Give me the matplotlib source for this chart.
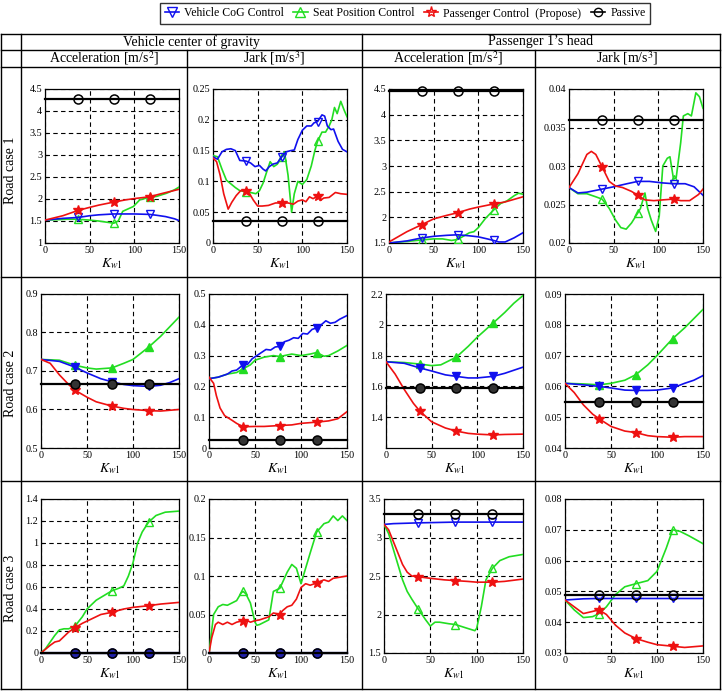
import matplotlib
matplotlib.use('Agg')
import matplotlib.pyplot as plt
from matplotlib.lines import Line2D
from matplotlib.ticker import FuncFormatter

plt.rcParams['font.family'] = ['Liberation Serif', 'DejaVu Serif']
plt.rcParams['mathtext.fontset'] = 'stix'

W, H = 723, 691
MARK_X = [37, 77, 117]
K_LIM = [0, 150]
X_TICKS = [0, 50, 100, 150]

C_COG = '#1010ee'
C_SEAT = '#22dd22'
C_PASS = '#ee1111'
C_PASSIVE = 'black'

legend_labels = ['Vehicle CoG Control', 'Seat Position Control',
                 'Passenger Control  (Propose)', 'Passive']
group_titles = ['Vehicle center of gravity', 'Passenger 1\u2019s head']
col_titles = ['Acceleration [m/s$^2$]', 'Jark [m/s$^3$]',
              'Acceleration [m/s$^2$]', 'Jark [m/s$^3$]']
row_titles = ['Road case 1', 'Road case 2', 'Road case 3']

# ---------------- Road case 1 ----------------
rc1_veh_acc_cog = [(0,1.52),(10,1.54),(20,1.56),(37,1.58),(50,1.62),(60,1.64),(77,1.66),(90,1.66),
                   (100,1.66),(117,1.65),(125,1.63),(135,1.6),(145,1.55),(150,1.51)]
rc1_veh_acc_seat = [(0,1.52),(15,1.53),(25,1.54),(37,1.54),(50,1.52),(60,1.5),(70,1.47),(77,1.45),
                    (82,1.5),(87,1.72),(99,1.83),(106,1.98),(117,2.04),(125,2.06),(136,2.13),(145,2.21),(150,2.27)]
rc1_veh_acc_pass = [(0,1.52),(20,1.62),(37,1.74),(50,1.81),(60,1.86),(77,1.93),(90,1.98),(100,2.01),
                    (117,2.05),(130,2.12),(140,2.17),(150,2.22)]
rc1_veh_acc_passive = 4.27

rc1_veh_jerk_cog = [(0,0.14),(5,0.136),(10,0.148),(15,0.152),(20,0.153),(25,0.15),(30,0.134),(37,0.133),
                    (42,0.13),(47,0.124),(52,0.126),(56,0.12),(59,0.117),(63,0.124),(67,0.128),(72,0.13),
                    (77,0.14),(82,0.148),(87,0.15),(91,0.151),(95,0.168),(100,0.183),(105,0.19),(110,0.19),
                    (113,0.195),(117,0.197),(122,0.208),(125,0.206),(128,0.19),(132,0.184),(135,0.185),
                    (140,0.165),(145,0.152),(150,0.148)]
rc1_veh_jerk_seat = [(0,0.142),(5,0.14),(10,0.12),(15,0.102),(20,0.096),(25,0.09),(30,0.085),(37,0.083),
                     (42,0.082),(48,0.08),(52,0.085),(56,0.097),(60,0.115),(64,0.132),(68,0.124),(72,0.128),
                     (77,0.14),(80,0.148),(84,0.11),(88,0.05),(91,0.08),(95,0.1),(100,0.095),(105,0.103),
                     (110,0.125),(114,0.15),(117,0.165),(122,0.18),(126,0.18),(130,0.19),(133,0.2),
                     (136,0.22),(139,0.21),(143,0.23),(147,0.215),(150,0.205)]
rc1_veh_jerk_pass = [(0,0.138),(4,0.132),(8,0.11),(12,0.08),(17,0.055),(21,0.066),(26,0.077),(31,0.085),
                     (37,0.085),(41,0.08),(45,0.07),(50,0.06),(55,0.06),(62,0.061),(70,0.065),(77,0.065),
                     (84,0.065),(90,0.063),(95,0.068),(100,0.07),(104,0.067),(108,0.075),(112,0.072),
                     (117,0.076),(120,0.069),(124,0.073),(130,0.074),(137,0.082),(143,0.08),(150,0.079)]
rc1_veh_jerk_passive = 0.035

rc1_head_acc_cog = [(0,1.5),(20,1.54),(37,1.6),(50,1.63),(65,1.65),(77,1.66),(90,1.64),(100,1.62),
                    (110,1.58),(117,1.55),(123,1.52),(130,1.52),(140,1.6),(150,1.7)]
rc1_head_acc_seat = [(0,1.5),(20,1.53),(37,1.56),(50,1.58),(60,1.58),(70,1.55),(77,1.57),(82,1.62),
                     (90,1.7),(95,1.72),(100,1.8),(108,1.98),(117,2.14),(125,2.27),(132,2.32),(140,2.42),
                     (145,2.47),(150,2.45)]
rc1_head_acc_pass = [(0,1.52),(10,1.62),(20,1.72),(37,1.86),(50,1.97),(65,2.04),(77,2.09),(90,2.16),
                     (100,2.2),(117,2.26),(130,2.3),(140,2.35),(150,2.4)]
rc1_head_acc_passive = 4.47

rc1_head_jerk_cog = [(0,0.0272),(10,0.0265),(20,0.0266),(37,0.027),(50,0.0273),(65,0.0277),(77,0.028),
                     (90,0.028),(105,0.0278),(117,0.0277),(130,0.0277),(140,0.0273),(150,0.0262)]
rc1_head_jerk_seat = [(0,0.0272),(10,0.0264),(20,0.0264),(30,0.026),(37,0.0257),(45,0.0245),(52,0.023),
                      (58,0.022),(64,0.0218),(70,0.0226),(77,0.0239),(80,0.0245),(85,0.0265),(88,0.0245),
                      (92,0.023),(97,0.0215),(101,0.0235),(105,0.03),(110,0.031),(113,0.0312),(117,0.0283),
                      (120,0.0285),(125,0.033),(128,0.0365),(133,0.0368),(137,0.0365),(142,0.0395),
                      (146,0.039),(150,0.0375)]
rc1_head_jerk_pass = [(0,0.0272),(10,0.029),(20,0.0315),(25,0.0319),(30,0.0315),(37,0.0299),(45,0.028),
                      (52,0.0274),(60,0.0272),(70,0.0267),(77,0.0262),(85,0.0256),(95,0.0255),(105,0.0256),
                      (117,0.0257),(125,0.0255),(135,0.0255),(145,0.0263),(150,0.027)]
rc1_head_jerk_passive = 0.036

# ---------------- Road case 2 ----------------
rc2_veh_acc_cog = [(0,0.73),(20,0.725),(37,0.71),(50,0.695),(65,0.68),(77,0.672),(90,0.665),(100,0.662),
                   (117,0.66),(130,0.663),(140,0.67),(150,0.68)]
rc2_veh_acc_seat = [(0,0.73),(20,0.728),(37,0.715),(50,0.708),(60,0.705),(77,0.708),(90,0.72),(100,0.73),
                    (117,0.762),(130,0.79),(140,0.815),(150,0.84)]
rc2_veh_acc_pass = [(0,0.73),(10,0.72),(20,0.69),(30,0.665),(37,0.65),(50,0.632),(60,0.62),(77,0.609),
                    (90,0.603),(100,0.6),(117,0.597),(130,0.596),(140,0.598),(150,0.6)]
rc2_veh_acc_passive = 0.667

rc2_veh_jerk_cog = [(0,0.225),(10,0.23),(20,0.24),(25,0.25),(30,0.253),(37,0.27),(42,0.272),(47,0.29),
                    (52,0.3),(57,0.31),(62,0.32),(67,0.318),(72,0.328),(77,0.33),(82,0.345),(87,0.35),
                    (92,0.358),(97,0.356),(102,0.372),(107,0.37),(112,0.385),(117,0.39),(122,0.4),
                    (127,0.413),(132,0.405),(137,0.408),(142,0.418),(150,0.43)]
rc2_veh_jerk_seat = [(0,0.225),(10,0.23),(20,0.24),(30,0.245),(37,0.257),(45,0.27),(50,0.285),(60,0.295),
                     (70,0.3),(77,0.297),(90,0.305),(100,0.3),(110,0.305),(117,0.31),(125,0.298),(130,0.3),
                     (140,0.315),(150,0.333)]
rc2_veh_jerk_pass = [(0,0.23),(5,0.21),(8,0.17),(12,0.13),(17,0.105),(25,0.09),(30,0.08),(37,0.069),
                     (50,0.07),(60,0.07),(77,0.073),(90,0.075),(100,0.08),(117,0.084),(130,0.088),
                     (140,0.095),(150,0.118)]
rc2_veh_jerk_passive = 0.025

rc2_head_acc_cog = [(0,1.76),(20,1.75),(37,1.72),(50,1.7),(65,1.675),(77,1.665),(90,1.655),(100,1.655),
                    (117,1.665),(130,1.685),(140,1.705),(150,1.725)]
rc2_head_acc_seat = [(0,1.76),(20,1.755),(37,1.745),(50,1.735),(60,1.74),(77,1.79),(90,1.86),(100,1.92),
                     (117,2.01),(130,2.08),(140,2.14),(150,2.19)]
rc2_head_acc_pass = [(0,1.76),(10,1.68),(20,1.58),(30,1.49),(37,1.44),(50,1.37),(65,1.33),(77,1.31),
                     (90,1.295),(100,1.29),(117,1.285),(130,1.288),(150,1.29)]
rc2_head_acc_passive = 1.59

rc2_head_jerk_cog = [(0,0.061),(20,0.0605),(37,0.06),(50,0.0595),(65,0.0588),(77,0.0587),(90,0.0587),
                     (100,0.0588),(117,0.0595),(130,0.061),(140,0.062),(150,0.0635)]
rc2_head_jerk_seat = [(0,0.061),(20,0.0608),(37,0.0605),(50,0.061),(65,0.062),(77,0.0638),(90,0.067),
                      (100,0.07),(117,0.0755),(130,0.079),(140,0.082),(150,0.085)]
rc2_head_jerk_pass = [(0,0.061),(10,0.058),(20,0.054),(30,0.051),(37,0.0495),(50,0.047),(65,0.0455),
                      (77,0.045),(90,0.044),(100,0.0437),(117,0.0435),(130,0.0437),(150,0.0437)]
rc2_head_jerk_passive = 0.0548

# ---------------- Road case 3 ----------------
rc3_veh_acc_cog = [(0,0.0),(37,0.0),(77,0.0),(117,0.0),(150,0.0)]
rc3_veh_acc_seat = [(0,0.0),(5,0.04),(10,0.1),(15,0.16),(20,0.21),(25,0.22),(30,0.22),(37,0.245),(45,0.33),
                    (50,0.4),(60,0.48),(70,0.53),(77,0.565),(85,0.59),(90,0.61),(95,0.7),(100,0.82),
                    (105,1.0),(110,1.1),(117,1.19),(125,1.25),(135,1.28),(150,1.29)]
rc3_veh_acc_pass = [(0,0.0),(10,0.07),(15,0.1),(20,0.11),(25,0.15),(30,0.19),(37,0.23),(45,0.27),(55,0.31),
                    (65,0.35),(77,0.37),(90,0.4),(100,0.415),(117,0.43),(130,0.445),(150,0.46)]
rc3_veh_acc_passive = 0.0

rc3_veh_jerk_cog = [(0,0.0),(37,0.0),(77,0.0),(117,0.0),(150,0.0)]
rc3_veh_jerk_seat = [(0,0.0),(3,0.03),(5,0.05),(10,0.06),(15,0.063),(20,0.062),(25,0.065),(30,0.068),
                     (35,0.078),(37,0.08),(40,0.077),(45,0.065),(50,0.04),(52,0.036),(55,0.037),(60,0.04),
                     (65,0.043),(70,0.08),(77,0.084),(85,0.105),(90,0.115),(95,0.11),(100,0.09),(105,0.11),
                     (110,0.13),(117,0.157),(125,0.168),(130,0.17),(135,0.178),(140,0.172),(145,0.178),
                     (150,0.172)]
rc3_veh_jerk_pass = [(0,0.0),(3,0.02),(7,0.037),(10,0.04),(15,0.037),(20,0.04),(25,0.037),(30,0.04),
                     (37,0.042),(40,0.034),(42,0.042),(45,0.04),(50,0.042),(55,0.043),(60,0.045),(65,0.047),
                     (70,0.052),(77,0.05),(80,0.055),(85,0.06),(90,0.062),(95,0.07),(100,0.085),(105,0.09),
                     (110,0.088),(117,0.091),(125,0.095),(130,0.093),(135,0.097),(140,0.098),(150,0.1)]
rc3_veh_jerk_passive = 0.0

rc3_head_acc_cog = [(0,3.17),(10,3.18),(37,3.19),(77,3.2),(117,3.2),(150,3.2)]
rc3_head_acc_seat = [(0,3.17),(5,3.05),(10,2.85),(15,2.65),(20,2.45),(25,2.3),(30,2.2),(37,2.07),(45,1.93),
                     (50,1.85),(55,1.9),(60,1.9),(70,1.88),(77,1.87),(90,1.82),(98,1.79),(100,1.82),
                     (105,2.1),(110,2.45),(117,2.6),(125,2.7),(135,2.75),(150,2.78)]
rc3_head_acc_pass = [(0,3.17),(5,3.1),(10,2.95),(15,2.8),(20,2.65),(25,2.55),(30,2.5),(37,2.49),(50,2.47),
                     (65,2.45),(77,2.44),(90,2.43),(100,2.42),(117,2.42),(130,2.43),(150,2.46)]
rc3_head_acc_passive = 3.3

rc3_head_jerk_cog = [(0,0.0472),(20,0.0476),(37,0.0477),(77,0.0477),(117,0.0477),(150,0.0477)]
rc3_head_jerk_seat = [(0,0.0472),(10,0.044),(20,0.0415),(30,0.0418),(37,0.0428),(45,0.045),(55,0.049),
                      (65,0.0515),(77,0.0525),(90,0.0535),(100,0.0565),(110,0.064),(117,0.07),(125,0.0695),
                      (135,0.068),(150,0.0655)]
rc3_head_jerk_pass = [(0,0.0472),(10,0.045),(20,0.0428),(30,0.0435),(37,0.044),(45,0.0425),(55,0.039),
                      (65,0.0365),(77,0.0347),(90,0.0335),(100,0.0327),(117,0.0322),(130,0.0318),(150,0.0323)]
rc3_head_jerk_passive = 0.0489

# y-axis settings per panel: (ymin, ymax, ticks)
rc1_ylims = [(1, 4.5, [1, 1.5, 2, 2.5, 3, 3.5, 4, 4.5]),
             (0, 0.25, [0, 0.05, 0.1, 0.15, 0.2, 0.25]),
             (1.5, 4.5, [1.5, 2, 2.5, 3, 3.5, 4, 4.5]),
             (0.02, 0.04, [0.02, 0.025, 0.03, 0.035, 0.04])]
rc2_ylims = [(0.5, 0.9, [0.5, 0.6, 0.7, 0.8, 0.9]),
             (0, 0.5, [0, 0.1, 0.2, 0.3, 0.4, 0.5]),
             (1.2, 2.2, [1.4, 1.6, 1.8, 2, 2.2]),
             (0.04, 0.09, [0.04, 0.05, 0.06, 0.07, 0.08, 0.09])]
rc3_ylims = [(0, 1.4, [0, 0.2, 0.4, 0.6, 0.8, 1, 1.2, 1.4]),
             (0, 0.2, [0, 0.05, 0.1, 0.15, 0.2]),
             (1.5, 3.5, [1.5, 2, 2.5, 3, 3.5]),
             (0.03, 0.08, [0.03, 0.04, 0.05, 0.06, 0.07, 0.08])]

# ---------------- layout (pixels) ----------------
axes_px = [
    [(45, 89, 179, 243), (213, 89, 347, 243), (389, 89, 523, 243), (569, 89, 703, 243)],
    [(41, 294, 179, 448), (209, 294, 347, 448), (386, 294, 523, 448), (565, 294, 703, 448)],
    [(41, 499, 179, 653), (209, 499, 347, 653), (384, 499, 523, 653), (565, 499, 703, 653)],
]

fig = plt.figure(figsize=(W / 100, H / 100), dpi=100)


def fx(x):
    return x / W


def fy(y):
    return 1 - y / H


def hline(y, x0, x1, lw=1.0):
    fig.add_artist(Line2D([fx(x0), fx(x1)], [fy(y), fy(y)], color='black', lw=lw,
                          transform=fig.transFigure))


def vline(x, y0, y1, lw=1.0):
    fig.add_artist(Line2D([fx(x), fx(x)], [fy(y0), fy(y1)], color='black', lw=lw,
                          transform=fig.transFigure))


def xy(pts):
    return [p[0] for p in pts], [p[1] for p in pts]


def draw_series(ax, pts, color, marker, filled, ms=6, lw=1.2, z=3, clip=True):
    x, y = xy(pts)
    idx = [i for i, v in enumerate(x) if v in MARK_X]
    ax.plot(x, y, color=color, lw=lw, marker=marker, markevery=idx, ms=ms,
            mfc=color if filled else 'none', mec=color, mew=1.0, zorder=z, clip_on=clip)


def draw_passive(ax, level, filled):
    x = [K_LIM[0]] + MARK_X + [K_LIM[1]]
    y = [level] * len(x)
    ax.plot(x, y, color=C_PASSIVE, lw=1.6, marker='o', markevery=[1, 2, 3], ms=6.5,
            mfc='#333333' if filled else 'none', mec='black', mew=1.1, zorder=4, clip_on=False)


def fmt(v, pos):
    return '%g' % v


rows = [
    (rc1_ylims, [(rc1_veh_acc_cog, rc1_veh_acc_seat, rc1_veh_acc_pass, rc1_veh_acc_passive),
                 (rc1_veh_jerk_cog, rc1_veh_jerk_seat, rc1_veh_jerk_pass, rc1_veh_jerk_passive),
                 (rc1_head_acc_cog, rc1_head_acc_seat, rc1_head_acc_pass, rc1_head_acc_passive),
                 (rc1_head_jerk_cog, rc1_head_jerk_seat, rc1_head_jerk_pass, rc1_head_jerk_passive)], False),
    (rc2_ylims, [(rc2_veh_acc_cog, rc2_veh_acc_seat, rc2_veh_acc_pass, rc2_veh_acc_passive),
                 (rc2_veh_jerk_cog, rc2_veh_jerk_seat, rc2_veh_jerk_pass, rc2_veh_jerk_passive),
                 (rc2_head_acc_cog, rc2_head_acc_seat, rc2_head_acc_pass, rc2_head_acc_passive),
                 (rc2_head_jerk_cog, rc2_head_jerk_seat, rc2_head_jerk_pass, rc2_head_jerk_passive)], True),
    (rc3_ylims, [(rc3_veh_acc_cog, rc3_veh_acc_seat, rc3_veh_acc_pass, rc3_veh_acc_passive),
                 (rc3_veh_jerk_cog, rc3_veh_jerk_seat, rc3_veh_jerk_pass, rc3_veh_jerk_passive),
                 (rc3_head_acc_cog, rc3_head_acc_seat, rc3_head_acc_pass, rc3_head_acc_passive),
                 (rc3_head_jerk_cog, rc3_head_jerk_seat, rc3_head_jerk_pass, rc3_head_jerk_passive)], False),
]

for r, (ylims, panels, filled) in enumerate(rows):
    for c, (cog, seat, pas, passive) in enumerate(panels):
        l, t, rr, b = axes_px[r][c]
        ax = fig.add_axes([fx(l), fy(b), (rr - l) / W, (b - t) / H])
        ymin, ymax, yt = ylims[c]
        on_zero = (r == 2 and c < 2)
        if on_zero:
            draw_series(ax, cog, '#2020aa', 'o', True, ms=6.5, lw=1.6, z=3, clip=False)
        draw_passive(ax, passive, filled)
        draw_series(ax, seat, C_SEAT, '^', filled, z=3)
        if not on_zero:
            draw_series(ax, cog, C_COG, 'v', filled, z=3)
        draw_series(ax, pas, C_PASS, '*', True, ms=7, z=3)
        ax.set_xlim(*K_LIM)
        ax.set_ylim(ymin, ymax)
        ax.set_xticks(X_TICKS)
        ax.set_yticks(yt)
        ax.yaxis.set_major_formatter(FuncFormatter(fmt))
        ax.grid(True, color='black', ls=(0, (4, 3)), lw=0.8)
        ax.tick_params(direction='in', length=2, labelsize=7.3, pad=2, colors='black')
        for s in ax.spines.values():
            s.set_linewidth(0.9)
        ax.set_xlabel(r'$K_{w\mathrm{1}}$', fontsize=10, labelpad=1)

# ---------------- table lines ----------------
TL, TR, TT, TB = 1, 720, 34, 689
hline(TT, TL, TR)
hline(50, TL, TR)
hline(67, TL, TR)
hline(277, TL, TR)
hline(481, TL, TR)
hline(TB, TL, TR)
vline(TL, TT, TB)
vline(TR, TT, TB)
vline(21, TT, TB)
vline(362, TT, TB)
vline(187, 50, TB)
vline(535, 50, TB)

# ---------------- header texts ----------------
fig.text(fx((21 + 362) / 2), fy(42), group_titles[0], ha='center', va='center', fontsize=10)
fig.text(fx((362 + 720) / 2), fy(42), group_titles[1], ha='center', va='center', fontsize=10)
col_centers = [(21 + 187) / 2, (187 + 362) / 2, (362 + 535) / 2, (535 + 720) / 2]
for cx, txt in zip(col_centers, col_titles):
    fig.text(fx(cx), fy(58.5), txt, ha='center', va='center', fontsize=10)
for cy, txt in zip([170, 383, 588], row_titles):
    fig.text(fx(11), fy(cy), txt, ha='center', va='center', rotation=90, fontsize=10)

# ---------------- legend ----------------
handles = [
    Line2D([], [], color=C_COG, marker='v', mfc='none', mec=C_COG, ms=7, lw=1.2),
    Line2D([], [], color=C_SEAT, marker='^', mfc='none', mec=C_SEAT, ms=7, lw=1.2),
    Line2D([], [], color=C_PASS, marker='*', mfc='none', mec=C_PASS, ms=8, lw=1.2),
    Line2D([], [], color=C_PASSIVE, marker='o', mfc='none', mec='black', ms=6, lw=1.2),
]
leg = fig.legend(handles, legend_labels, loc='center', bbox_to_anchor=(fx(405), fy(13.5)),
                 ncol=4, fontsize=8.5, frameon=True, fancybox=False, edgecolor='black',
                 handlelength=1.2, handletextpad=0.45, columnspacing=0.8, borderpad=0.35,
                 borderaxespad=0.0)
leg.get_frame().set_linewidth(1.0)

fig.savefig('out.png', dpi=100)
